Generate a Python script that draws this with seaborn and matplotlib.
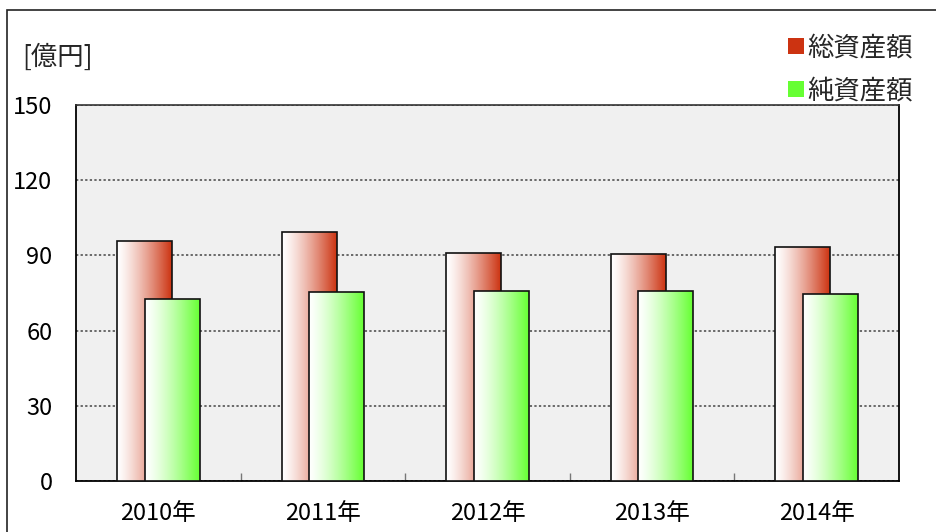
import numpy as np
import pandas as pd
import matplotlib
matplotlib.use('Agg')
import matplotlib.pyplot as plt
import seaborn as sns
from matplotlib.patches import Patch, Rectangle
from matplotlib.colors import LinearSegmentedColormap

# Data (unit: 100 million yen)
years = ['2010年', '2011年', '2012年', '2013年', '2014年']
total_assets = [95.7, 99.2, 91.1, 90.4, 93.4]
net_assets = [72.6, 75.3, 75.9, 75.9, 74.6]
series_names = ['総資産額', '純資産額']
series_colors = ['#CC3311', '#66FF33']

df = pd.DataFrame({
    'year': years * 2,
    'value': total_assets + net_assets,
    'series': [series_names[0]] * 5 + [series_names[1]] * 5,
})

sns.set_theme(style='white')
plt.rcParams['font.family'] = ['Noto Sans CJK JP', 'DejaVu Sans']

fig = plt.figure(figsize=(9.37, 5.32), dpi=100)
ax = fig.add_axes([76 / 937, 1 - 481 / 532, 823 / 937, 376 / 532])
ax.set_facecolor('#F0F0F0')

sns.barplot(data=df, x='year', y='value', hue='series', hue_order=series_names,
            palette=series_colors, dodge=True, legend=False, ax=ax)

# overlapping bars with horizontal white -> colour gradient
bar_w = 0.334
offsets = [-0.0835, 0.0835]
for k, cont in enumerate(ax.containers):
    cmap = LinearSegmentedColormap.from_list('g%d' % k, ['#FFFFFF', series_colors[k]])
    grad = np.linspace(0, 1, 256) ** 1.3
    for i, bar in enumerate(cont):
        h = bar.get_height()
        x0 = i + offsets[k] - bar_w / 2
        bar.set_x(x0)
        bar.set_width(bar_w)
        bar.set_facecolor('none')
        bar.set_edgecolor('#111111')
        bar.set_linewidth(1.2)
        bar.set_zorder(3 + 2 * k + 0.5)
        im = ax.imshow(grad[np.newaxis, :], cmap=cmap, aspect='auto',
                       extent=[x0, x0 + bar_w, 0, h], zorder=3 + 2 * k,
                       interpolation='bicubic')
        im.set_clip_path(bar)

ax.set_xlim(-0.5, 4.5)
ax.set_ylim(0, 150)
ax.set_yticks([0, 30, 60, 90, 120, 150])
ax.yaxis.grid(True, linestyle=(0, (1.5, 1.5)), color='#444444', linewidth=1.1)
ax.set_axisbelow(True)
ax.set_xlabel('')
ax.set_ylabel('')

ax.tick_params(axis='both', which='major', length=0, labelsize=17, colors='black')
ax.tick_params(axis='x', pad=15)
ax.tick_params(axis='y', pad=17)
ax.set_xticks([0.5, 1.5, 2.5, 3.5], minor=True)
ax.tick_params(axis='x', which='minor', direction='in', length=6, color='#777777', bottom=True)

for side in ['left', 'bottom', 'right']:
    ax.spines[side].set_color('black')
    ax.spines[side].set_linewidth(1.3)
ax.spines['top'].set_color('#333333')
ax.spines['top'].set_linestyle((0, (2, 1)))
ax.spines['top'].set_linewidth(1.2)

fig.text(22 / 937, 1 - 57 / 532, '[億円]', fontsize=19, va='center', ha='left')

handles = [Patch(facecolor=c, edgecolor='none') for c in series_colors]
fig.legend(handles, series_names, loc='upper right', bbox_to_anchor=(1.0, 0.98),
           frameon=False, fontsize=19, handlelength=0.6, handleheight=0.6,
           handletextpad=0.15, labelspacing=0.6)

fig.patches.append(Rectangle((7 / 937, -0.1), 2, 1 - 10 / 532 + 0.1, fill=False,
                             edgecolor='#222222', linewidth=1.2,
                             transform=fig.transFigure, figure=fig))

fig.savefig('out.png', dpi=100)
